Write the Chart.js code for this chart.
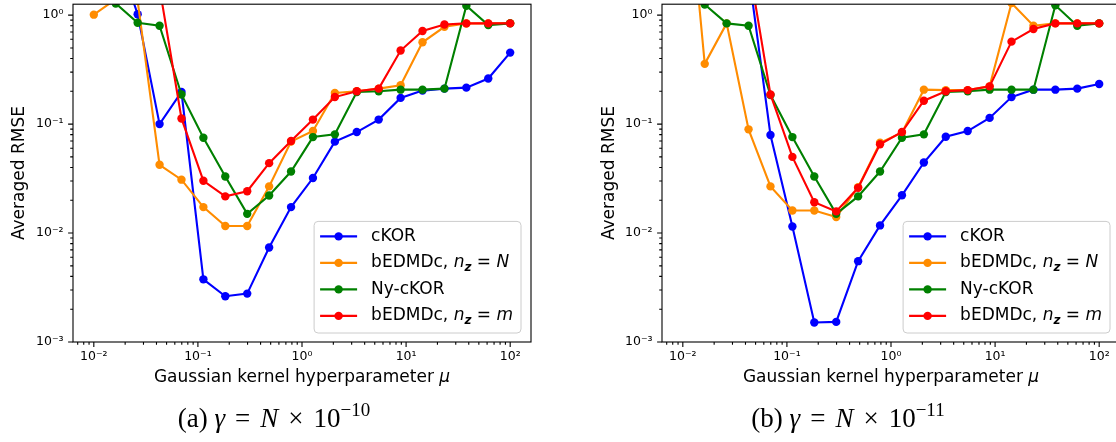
<!DOCTYPE html>
<html>
<head>
<meta charset="utf-8">
<script src="https://cdn.jsdelivr.net/npm/chart.js@4.4.0/dist/chart.umd.min.js"></script>
<style>
html, body { margin: 0; padding: 0; background: #fff; overflow: hidden; }
body { width: 1116px; height: 442px; position: relative; }
.wrap { position: absolute; top: 0; width: 558px; height: 442px; }
.cap { position: absolute; top: 403px; width: 400px; line-height: 30px; text-align: center;
       font-family: "Liberation Serif", serif; font-size: 27px; color: #000; white-space: nowrap; }
.cap sup { font-size: 19px; vertical-align: 0; position: relative; top: -11px; }
.cap .op { margin: 0 0.12em; }
</style>
</head>
<body>
<div class="wrap" style="left:0"><canvas id="chartA"></canvas></div>
<div class="wrap" style="left:590px"><canvas id="chartB"></canvas></div>
<div class="cap" style="left:74px">(a) <i>γ</i> <span class="op">=</span> <i>N</i> <span class="op">×</span> 10<sup>−10</sup></div>
<div class="cap" style="left:648px">(b) <i>γ</i> <span class="op">=</span> <i>N</i> <span class="op">×</span> 10<sup>−11</sup></div>

<script>
// kernel hyperparameter grid (20 points, 1e-2 .. 1e2)
var muValues = [0.01, 0.01624, 0.02637, 0.04281, 0.06952, 0.1129, 0.1833, 0.2976, 0.4833, 0.7848,
                1.274, 2.069, 3.360, 5.456, 8.859, 14.38, 23.36, 37.93, 61.58, 100];

var seriesNames = ['cKOR', 'bEDMDc, n_z = N', 'Ny-cKOR', 'bEDMDc, n_z = m'];
var seriesColors = ['#0000ff', '#ff8c00', '#008000', '#ff0000'];

// (a) gamma = N x 1e-10
var ckorA    = [4, 4, 1.02, 0.1, 0.197, 0.00376, 0.00263, 0.00278, 0.00736, 0.0173,
                0.032, 0.069, 0.0845, 0.110, 0.174, 0.203, 0.2115, 0.216, 0.262, 0.453];
var bedmdcNA = [1.01, 1.4, 1.35, 0.0423, 0.0309, 0.0173, 0.0116, 0.0116, 0.0268, 0.069,
                0.0863, 0.193, 0.200, 0.2115, 0.227, 0.563, 0.782, 0.838, 0.84, 0.845];
var nyckorA  = [1.5, 1.28, 0.851, 0.80, 0.187, 0.075, 0.033, 0.015, 0.0221, 0.0367,
                0.076, 0.0805, 0.197, 0.20, 0.207, 0.207, 0.2115, 1.22, 0.81, 0.84];
var bedmdcMA = [2.5, 2.5, 2.5, 1.79, 0.1127, 0.0302, 0.0217, 0.0242, 0.0438, 0.070,
                0.110, 0.177, 0.20, 0.2115, 0.473, 0.715, 0.82, 0.84, 0.84, 0.84];

// (b) gamma = N x 1e-11
var ckorB    = [3, 3, 3, 2.5, 0.0794, 0.0115, 0.00151, 0.00153, 0.00552, 0.01175,
                0.0222, 0.0444, 0.0766, 0.0863, 0.114, 0.177, 0.207, 0.207, 0.2115, 0.233];
var bedmdcNB = [50, 0.357, 0.84, 0.0895, 0.0268, 0.0161, 0.0161, 0.014, 0.0263, 0.0675,
                0.0833, 0.207, 0.205, 0.205, 0.222, 1.29, 0.80, 0.84, 0.84, 0.84];
var nyckorB  = [1.5, 1.25, 0.84, 0.80, 0.185, 0.076, 0.033, 0.015, 0.0217, 0.0367,
                0.075, 0.0805, 0.197, 0.20, 0.207, 0.207, 0.207, 1.23, 0.80, 0.84];
var bedmdcMB = [3, 3, 3, 3.0, 0.187, 0.050, 0.0192, 0.0158, 0.026, 0.0653,
                0.0846, 0.164, 0.20, 0.205, 0.222, 0.571, 0.745, 0.84, 0.84, 0.84];

var xMajorTicks = [0.01, 0.1, 1, 10, 100];
var yMajorTicks = [0.001, 0.01, 0.1, 1];
var xTitleText = 'Gaussian kernel hyperparameter ';
var xTitleSymbol = 'μ';
var yTitle = 'Averaged RMSE';

// legend text pieces: n = normal, i = italic, s = bold italic subscript
var legendLabels = [
    [['cKOR', 'n']],
    [['bEDMDc, ', 'n'], ['n', 'i'], ['z', 's'], [' = ', 'n'], ['N', 'i']],
    [['Ny-cKOR', 'n']],
    [['bEDMDc, ', 'n'], ['n', 'i'], ['z', 's'], [' = ', 'n'], ['m', 'i']]
];

Chart.defaults.font.family = 'DejaVu Sans';
Chart.defaults.color = '#000';

var supMap = {'0': '⁰', '1': '¹', '2': '²', '3': '³', '-': '⁻'};
function pow10Label(v) {
    var e = String(Math.round(Math.log10(v)));
    return '10' + e.split('').map(function (c) { return supMap[c]; }).join('');
}

function logMarks(min, max) {
    var out = [];
    for (var e = Math.floor(Math.log10(min)); e <= Math.ceil(Math.log10(max)); e++) {
        for (var k = 1; k <= 9; k++) {
            var v = k * Math.pow(10, e);
            if (v >= min * 0.9999 && v <= max * 1.0001) out.push({v: v, major: k === 1});
        }
    }
    return out;
}

// box around the axes + matplotlib style major/minor ticks + x label with italic mu
var frameTicks = {
    id: 'frameTicks',
    afterDraw: function (chart) {
        var ctx = chart.ctx, a = chart.chartArea, x = chart.scales.x, y = chart.scales.y;
        ctx.save();
        ctx.strokeStyle = '#000';
        ctx.lineWidth = 1.1;
        ctx.beginPath();
        logMarks(x.min, x.max).forEach(function (m) {
            var px = x.getPixelForValue(m.v);
            ctx.moveTo(px, a.bottom);
            ctx.lineTo(px, a.bottom + (m.major ? 4.9 : 2.8));
        });
        logMarks(y.min, y.max).forEach(function (m) {
            var py = y.getPixelForValue(m.v);
            ctx.moveTo(a.left, py);
            ctx.lineTo(a.left - (m.major ? 4.9 : 2.8), py);
        });
        ctx.stroke();
        ctx.strokeRect(a.left, a.top, a.right - a.left, a.bottom - a.top);

        ctx.fillStyle = '#000';
        ctx.textBaseline = 'middle';
        ctx.font = '17px "DejaVu Sans"';
        var w1 = ctx.measureText(xTitleText).width;
        ctx.font = 'oblique 17px "DejaVu Sans"';
        var w2 = ctx.measureText(xTitleSymbol).width;
        var tx = (a.left + a.right) / 2 - (w1 + w2) / 2;
        ctx.font = '17px "DejaVu Sans"';
        ctx.fillText(xTitleText, tx, 378);
        ctx.font = 'oblique 17px "DejaVu Sans"';
        ctx.fillText(xTitleSymbol, tx + w1, 378);
        ctx.restore();
    }
};

function pieceFont(kind) {
    if (kind === 'i') return 'oblique 17px "DejaVu Sans"';
    if (kind === 's') return 'bold oblique 12px "DejaVu Sans"';
    return '17px "DejaVu Sans"';
}

var mathLegend = {
    id: 'mathLegend',
    afterDraw: function (chart) {
        var ctx = chart.ctx, a = chart.chartArea;
        var rowH = 26.5;
        ctx.save();
        var maxW = 0;
        legendLabels.forEach(function (pieces) {
            var w = 0;
            pieces.forEach(function (p) { ctx.font = pieceFont(p[1]); w += ctx.measureText(p[0]).width; });
            maxW = Math.max(maxW, w);
        });
        var boxW = 57 + maxW + 8, boxH = 111.6;
        var left = a.right - 10 - boxW, top = a.bottom - 9 - boxH;
        ctx.beginPath();
        ctx.roundRect(left, top, boxW, boxH, 4);
        ctx.fillStyle = 'rgba(255,255,255,0.8)';
        ctx.fill();
        ctx.strokeStyle = '#cccccc';
        ctx.lineWidth = 1;
        ctx.stroke();
        chart.data.datasets.forEach(function (ds, i) {
            var cy = top + 15 + i * rowH;
            ctx.strokeStyle = ds.borderColor;
            ctx.lineWidth = 2.1;
            ctx.beginPath();
            ctx.moveTo(left + 6, cy);
            ctx.lineTo(left + 43, cy);
            ctx.stroke();
            ctx.fillStyle = ds.borderColor;
            ctx.beginPath();
            ctx.arc(left + 24.5, cy, 4.2, 0, Math.PI * 2);
            ctx.fill();
            var tx = left + 57;
            ctx.fillStyle = '#000';
            ctx.textBaseline = 'middle';
            legendLabels[i].forEach(function (p) {
                ctx.font = pieceFont(p[1]);
                ctx.fillText(p[0], tx, p[1] === 's' ? cy + 4.5 : cy);
                tx += ctx.measureText(p[0]).width;
            });
        });
        ctx.restore();
    }
};

function makeDatasets(seriesVals) {
    return seriesVals.map(function (vals, i) {
        return {
            label: seriesNames[i],
            data: vals.map(function (v, j) { return {x: muValues[j], y: v}; }),
            borderColor: seriesColors[i],
            backgroundColor: seriesColors[i],
            pointBackgroundColor: seriesColors[i],
            pointBorderWidth: 0,
            pointRadius: 4.2,
            pointHoverRadius: 4.2,
            borderWidth: 2.1,
            tension: 0,
            order: 3 - i
        };
    });
}

function makeChart(id, seriesVals, yAxisWidth, padRight) {
    return new Chart(document.getElementById(id), {
        type: 'line',
        data: {datasets: makeDatasets(seriesVals)},
        options: {
            responsive: true,
            maintainAspectRatio: false,
            animation: false,
            layout: {padding: {top: 0, right: padRight, left: 0, bottom: 0}},
            plugins: {legend: {display: false}, tooltip: {enabled: false}},
            scales: {
                x: {
                    type: 'logarithmic',
                    min: Math.pow(10, -2.2),
                    max: Math.pow(10, 2.2),
                    grid: {display: false, drawTicks: false},
                    border: {display: false},
                    afterBuildTicks: function (s) { s.ticks = xMajorTicks.map(function (v) { return {value: v}; }); },
                    afterFit: function (s) { s.height = 100; s.paddingLeft = 0; s.paddingRight = 0; },
                    ticks: {padding: 7, font: {size: 12.5}, maxRotation: 0, autoSkip: false,
                            callback: function (v) { return pow10Label(v); }},
                    title: {display: false}
                },
                y: {
                    type: 'logarithmic',
                    min: 0.001,
                    max: 1.26,
                    grid: {display: false, drawTicks: false},
                    border: {display: false},
                    afterBuildTicks: function (s) { s.ticks = yMajorTicks.map(function (v) { return {value: v}; }); },
                    afterFit: function (s) { s.width = yAxisWidth; s.paddingTop = 0; s.paddingBottom = 0; },
                    ticks: {padding: 9.5, font: {size: 12.5}, autoSkip: false,
                            callback: function (v) { return pow10Label(v); }},
                    title: {display: true, text: yTitle, font: {size: 17}, padding: {top: 9.4, bottom: 0}}
                }
            }
        },
        plugins: [frameTicks, mathLegend]
    });
}

makeChart('chartA', [ckorA, bedmdcNA, nyckorA, bedmdcMA], 73, 27);
makeChart('chartB', [ckorB, bedmdcNB, nyckorB, bedmdcMB], 72, 28);
</script>
</body>
</html>
